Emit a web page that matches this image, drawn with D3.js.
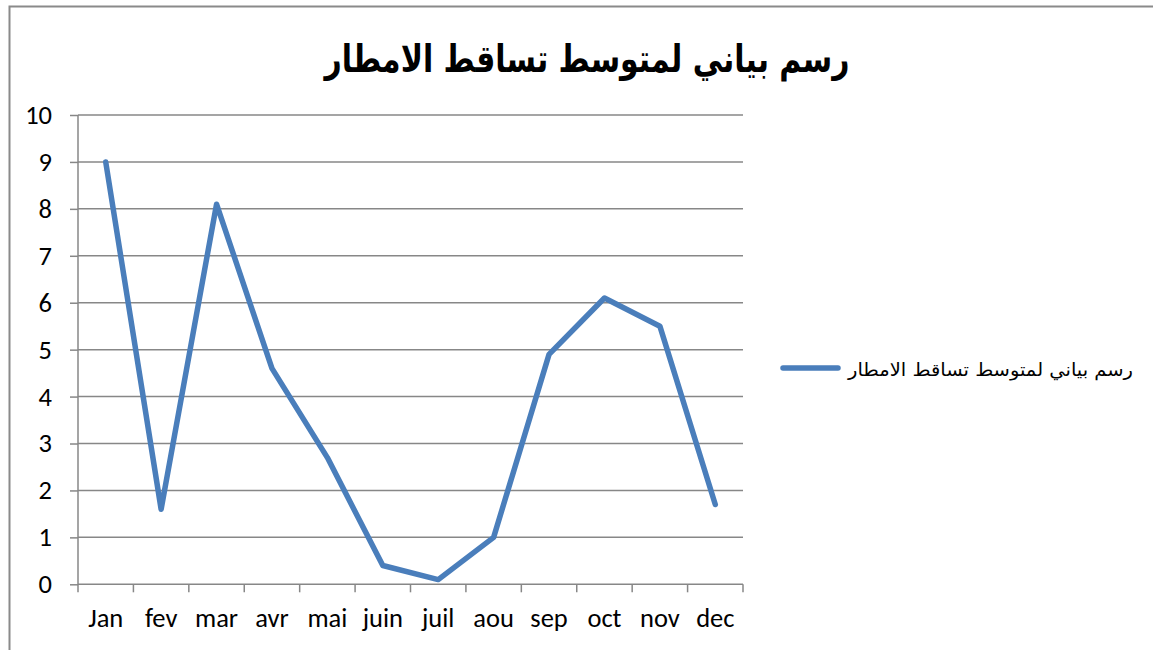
<!DOCTYPE html>
<html>
<head>
<meta charset="utf-8">
<script src="https://cdn.jsdelivr.net/npm/d3@7"></script>
<style>
  html, body { margin: 0; padding: 0; background: #fff; }
  svg { display: block; }
</style>
</head>
<body>
<script>
const months = ["Jan", "fev", "mar", "avr", "mai", "juin", "juil", "aou", "sep", "oct", "nov", "dec"];
const rainfall = [9, 1.6, 8.1, 4.6, 2.7, 0.4, 0.1, 1, 4.9, 6.1, 5.5, 1.7];
const yTicks = [0, 1, 2, 3, 4, 5, 6, 7, 8, 9, 10];
const titleText = "رسم بياني لمتوسط تساقط الامطار";
const seriesName = "رسم بياني لمتوسط تساقط الامطار";

const W = 1153, H = 650;
const svg = d3.select("body").append("svg").attr("width", W).attr("height", H);

const plot = { left: 78, right: 743, top: 115, bottom: 584.3 };
const x = d3.scaleBand().domain(months).range([plot.left, plot.right]);
const y = d3.scaleLinear().domain([0, 10]).range([plot.bottom, plot.top]);

const gridColor = "#878787";
const lineColor = "#4a7ebb";
const tickFont = "Carlito, Calibri, Lato, 'Open Sans', sans-serif";

// outer border (top and left visible)
svg.append("path")
  .attr("d", `M9.5,${H} L9.5,6.5 L${W},6.5`)
  .attr("fill", "none").attr("stroke", "#8a8a8a").attr("stroke-width", 2);

// title
svg.append("text")
  .attr("x", 587).attr("y", 72)
  .attr("text-anchor", "middle")
  .attr("font-family", "'DejaVu Sans', Arial, sans-serif")
  .attr("font-weight", "bold")
  .attr("font-size", 38)
  .attr("textLength", 525)
  .attr("lengthAdjust", "spacingAndGlyphs")
  .attr("fill", "#000")
  .text(titleText);

// horizontal gridlines
svg.append("g").selectAll("line").data(yTicks.filter(d => d > 0)).join("line")
  .attr("x1", plot.left).attr("x2", plot.right)
  .attr("y1", d => y(d)).attr("y2", d => y(d))
  .attr("stroke", gridColor).attr("stroke-width", 1.5);

// y axis
const yAxis = svg.append("g")
  .attr("transform", `translate(${plot.left},0)`)
  .call(d3.axisLeft(y).tickValues(yTicks).tickSize(8).tickPadding(18).tickFormat(d3.format("d")));
yAxis.select(".domain").attr("stroke", gridColor).attr("stroke-width", 1.5)
  .attr("d", `M0,${plot.top}V${plot.bottom}`);
yAxis.selectAll(".tick line").attr("stroke", gridColor).attr("stroke-width", 1.5);
yAxis.selectAll(".tick text")
  .attr("font-family", tickFont).attr("font-size", 26.5).attr("fill", "#000");

// x axis
const xAxis = svg.append("g")
  .attr("transform", `translate(0,${plot.bottom})`)
  .call(d3.axisBottom(x).tickSize(0).tickPadding(24));
xAxis.select(".domain").attr("stroke", gridColor).attr("stroke-width", 1.5)
  .attr("d", `M${plot.left},0H${plot.right}`);
xAxis.selectAll(".tick text")
  .attr("y", 43).attr("dy", 0)
  .attr("font-family", tickFont).attr("font-size", 26.5).attr("fill", "#000");

// x tick marks at band boundaries
const bounds = months.map(m => x(m)).concat([x(months[months.length - 1]) + x.bandwidth()]);
svg.append("g").selectAll("line").data(bounds).join("line")
  .attr("x1", d => d).attr("x2", d => d)
  .attr("y1", plot.bottom).attr("y2", plot.bottom + 8)
  .attr("stroke", gridColor).attr("stroke-width", 1.5);

// data line
const line = d3.line()
  .x((d, i) => x(months[i]) + x.bandwidth() / 2)
  .y(d => y(d));
svg.append("path")
  .datum(rainfall)
  .attr("d", line)
  .attr("fill", "none")
  .attr("stroke", lineColor)
  .attr("stroke-width", 5.5)
  .attr("stroke-linejoin", "round")
  .attr("stroke-linecap", "round");

// legend
svg.append("line")
  .attr("x1", 783).attr("x2", 838).attr("y1", 368).attr("y2", 368)
  .attr("stroke", lineColor).attr("stroke-width", 5.5).attr("stroke-linecap", "round");
svg.append("text")
  .attr("x", 1133).attr("y", 376)
  .attr("text-anchor", "end")
  .attr("font-family", "'DejaVu Sans', Arial, sans-serif")
  .attr("font-size", 18)
  .attr("textLength", 285)
  .attr("lengthAdjust", "spacingAndGlyphs")
  .attr("fill", "#000")
  .text(seriesName);
</script>
</body>
</html>
